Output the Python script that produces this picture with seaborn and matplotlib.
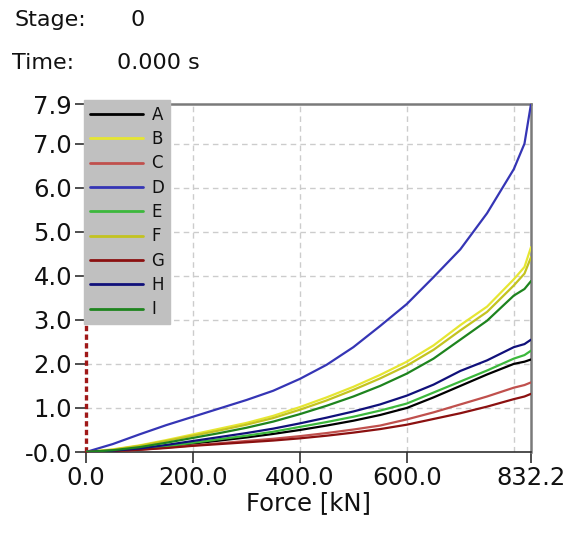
import numpy as np
import pandas as pd
import matplotlib
matplotlib.use("Agg")
import matplotlib.pyplot as plt
import seaborn as sns

# ---- data ----
force = [0, 50, 100, 150, 200, 250, 300, 350, 400, 450, 500, 550, 600, 650, 700, 750, 800, 820, 832.2]
series_names = ["A", "B", "C", "D", "E", "F", "G", "H", "I"]
A = [0, 0.02, 0.06, 0.12, 0.19, 0.26, 0.33, 0.41, 0.50, 0.60, 0.71, 0.84, 1.00, 1.24, 1.50, 1.76, 2.00, 2.05, 2.10]
B = [0, 0.06, 0.15, 0.27, 0.40, 0.53, 0.66, 0.82, 1.02, 1.24, 1.48, 1.75, 2.05, 2.42, 2.88, 3.30, 3.92, 4.20, 4.65]
C = [0, 0.02, 0.05, 0.10, 0.15, 0.20, 0.25, 0.30, 0.36, 0.43, 0.51, 0.60, 0.74, 0.90, 1.08, 1.26, 1.46, 1.52, 1.58]
D = [0, 0.18, 0.40, 0.61, 0.80, 0.99, 1.18, 1.39, 1.66, 1.98, 2.38, 2.86, 3.36, 3.97, 4.60, 5.42, 6.42, 7.00, 7.90]
E = [0, 0.02, 0.07, 0.13, 0.21, 0.29, 0.37, 0.46, 0.57, 0.68, 0.80, 0.94, 1.10, 1.35, 1.60, 1.85, 2.12, 2.20, 2.30]
F = [0, 0.05, 0.14, 0.25, 0.37, 0.49, 0.62, 0.77, 0.96, 1.17, 1.41, 1.67, 1.96, 2.32, 2.76, 3.18, 3.78, 4.05, 4.42]
G = [0, 0.02, 0.05, 0.09, 0.14, 0.18, 0.22, 0.26, 0.31, 0.37, 0.44, 0.52, 0.62, 0.75, 0.88, 1.03, 1.20, 1.26, 1.32]
H = [0, 0.03, 0.08, 0.16, 0.25, 0.34, 0.43, 0.53, 0.65, 0.78, 0.92, 1.08, 1.28, 1.53, 1.84, 2.08, 2.38, 2.45, 2.55]
I = [0, 0.04, 0.11, 0.21, 0.32, 0.43, 0.55, 0.69, 0.86, 1.05, 1.26, 1.50, 1.78, 2.12, 2.55, 2.98, 3.55, 3.70, 3.88]
stage_force = 0.0
x_ticks = [0, 200, 400, 600, 832.2]
x_tick_labels = ["0.0", "200.0", "400.0", "600.0", "832.2"]
y_ticks = [0, 1, 2, 3, 4, 5, 6, 7, 7.9]
y_tick_labels = ["-0.0", "1.0", "2.0", "3.0", "4.0", "5.0", "6.0", "7.0", "7.9"]
x_grid = [200, 400, 600, 800]
y_grid = [1, 2, 3, 4, 5, 6, 7]

values = dict(A=A, B=B, C=C, D=D, E=E, F=F, G=G, H=H, I=I)
df = pd.concat(
    [pd.DataFrame({"Force": force, "Value": values[n], "Series": n}) for n in series_names],
    ignore_index=True,
)

palette = {
    "A": "#000000", "B": "#e6e632", "C": "#c0504d", "D": "#3535b5",
    "E": "#3cb83c", "F": "#c3c320", "G": "#8b1010", "H": "#10107a", "I": "#1e841e",
}

sns.set_theme(style="white")
plt.rcParams["font.family"] = ["DejaVu Sans"]

fig = plt.figure(figsize=(5.71, 5.35), dpi=100)
ax = fig.add_axes([86 / 571, 1 - 452 / 535, (531 - 86) / 571, (452 - 104) / 535])

for gx in x_grid:
    ax.axvline(gx, color="#cccccc", lw=1.0, ls=(0, (4, 3)), zorder=0)
for gy in y_grid:
    ax.axhline(gy, color="#cccccc", lw=1.0, ls=(0, (4, 3)), zorder=0)

sns.lineplot(data=df, x="Force", y="Value", hue="Series", hue_order=series_names,
             palette=palette, sort=False, estimator=None, lw=1.6, ax=ax, zorder=3)

ax.axvline(stage_force, color="#a01818", lw=2.4, ls=(0, (1.6, 1.0)), zorder=2.7, clip_on=False)

ax.set_xlim(0, 832.2)
ax.set_ylim(0, 7.9)
ax.set_xticks(x_ticks)
ax.set_xticklabels(x_tick_labels)
ax.set_yticks(y_ticks)
ax.set_yticklabels(y_tick_labels)
ax.tick_params(axis="both", which="major", direction="out", length=8, width=1.2,
               color="#303030", labelsize=17.5, pad=2, labelcolor="#111111",
               bottom=True, left=True)
ax.set_xlabel("Force [kN]", fontsize=17.5, labelpad=1, color="#111111")
ax.set_ylabel("")

for s in ["top", "right"]:
    ax.spines[s].set_color("#7a7a7a")
    ax.spines[s].set_linewidth(1.8)
ax.spines["bottom"].set_color("#303030")
ax.spines["bottom"].set_linewidth(1.2)
ax.spines["left"].set_visible(False)

handles, labels = ax.get_legend_handles_labels()
leg = ax.legend(handles, labels, loc="upper left",
                bbox_to_anchor=(-2 / 445, 1 + 4 / 348), borderaxespad=0,
                frameon=True, fancybox=False, facecolor="#c0c0c0", edgecolor="#c0c0c0",
                framealpha=1, fontsize=12, handlelength=3.2, handletextpad=0.5,
                labelspacing=0.38, borderpad=0.35)
for t in leg.get_texts():
    t.set_color("#111111")
for l in leg.get_lines():
    l.set_linewidth(2.0)
leg.set_zorder(10)

fig.text(15 / 571, 1 - 20 / 535, "Stage:", fontsize=16, va="center", ha="left", color="#111111")
fig.text(131 / 571, 1 - 20 / 535, "0", fontsize=16, va="center", ha="left", color="#111111")
fig.text(12 / 571, 1 - 63 / 535, "Time:", fontsize=16, va="center", ha="left", color="#111111")
fig.text(117 / 571, 1 - 63 / 535, "0.000 s", fontsize=16, va="center", ha="left", color="#111111")

fig.savefig("out.png", dpi=100)
